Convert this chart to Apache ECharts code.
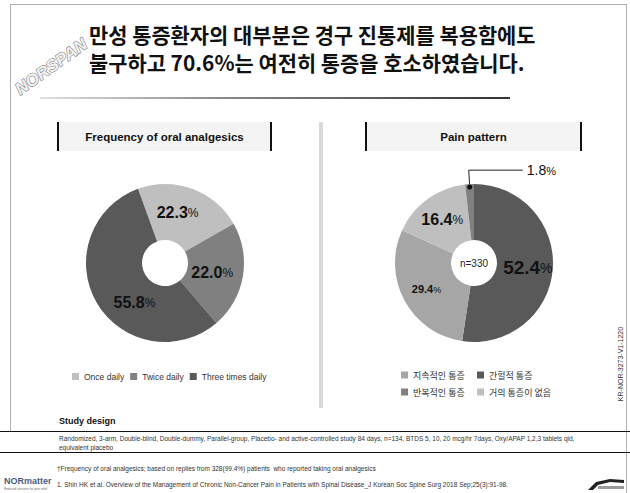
<!DOCTYPE html>
<html>
<head>
<meta charset="utf-8">
<script src="https://cdn.jsdelivr.net/npm/echarts@6/dist/echarts.min.js"></script>
<style>
  html, body { margin: 0; padding: 0; background: #fff; }
  #chart { width: 630px; height: 493px; }
</style>
</head>
<body>
<div id="chart"></div>
<script>
// ---- data ----
const freqNames = ['Once daily', 'Twice daily', 'Three times daily'];
const freqValues = [22.3, 22.0, 55.8];

const painNames = ['간헐적 통증', '지속적인 통증', '거의 통증이 없음', '반복적인 통증'];
const painValues = [52.4, 29.4, 16.4, 1.8];
const painLegendCol1 = ['지속적인 통증', '반복적인 통증'];
const painLegendCol2 = ['간헐적 통증', '거의 통증이 없음'];
const painSampleText = 'n=330';

const titleLines = ['만성 통증환자의 대부분은 경구 진통제를 복용함에도', '불구하고 70.6%는 여전히 통증을 호소하였습니다.'];
const panelTitles = ['Frequency of oral analgesics', 'Pain pattern'];
const studyHead = 'Study design';
const studyLines = [
  'Randomized, 3-arm, Double-blind, Double-dummy, Parallel-group, Placebo- and active-controlled study 84 days, n=134, BTDS 5, 10, 20 mcg/hr 7days, Oxy/APAP 1,2,3 tablets qid,',
  'equivalent placebo'
];
const footnote = '†Frequency of oral analgesics; based on replies from 328(99.4%) patients  who reported taking oral analgesics';
const reference = '1. Shin HK et al. Overview of the Management of Chronic Non-Cancer Pain in Patients with Spinal Disease_J Korean Soc Spine Surg 2018 Sep;25(3):91-98.';
const docCode = 'KR-NOR-3273-V1-1220';

// ---- styles ----
const KR = "'Noto Sans CJK KR', 'Noto Sans', sans-serif";
const EN = "'Liberation Sans', Arial, sans-serif";
const NARROW = "'Liberation Sans Narrow', 'Liberation Sans', Arial, sans-serif";

const freqColors = ['#bfbfbf', '#808080', '#595959'];
const painColors = ['#595959', '#a6a6a6', '#bfbfbf', '#808080'];
const painNumSize = [19, 11, 16, 14];
const painPctSize = [14, 9, 12, 11];
const painNumWeight = ['bold', 'bold', 'bold', 'normal'];

const leftCenter = [165, 263];
const rightCenter = [474, 263];
const pieRadius = [23, 79];

const fmt = v => v.toFixed(1);

const freqData = freqNames.map((n, i) => ({
  name: n, value: freqValues[i], itemStyle: { color: freqColors[i] }
}));

const lastPain = painValues.length - 1;
const painData = painNames.map((n, i) => {
  const item = { name: n, value: painValues[i], itemStyle: { color: painColors[i] } };
  const rich = {
    n: { fontSize: painNumSize[i], fontWeight: painNumWeight[i], color: '#111', fontFamily: EN },
    p: { fontSize: painPctSize[i], color: '#111', fontFamily: EN, padding: [2, 0, 0, 0] }
  };
  if (i === lastPain) {
    item.label = { position: 'outside', rich: rich };
    item.labelLine = { show: true, length: 14, length2: 54, lineStyle: { color: '#222', width: 1 } };
  } else {
    item.label = { position: 'inside', rich: rich };
    item.labelLine = { show: false };
  }
  return item;
});

let leaderStart = null;

const graphics = [
  // page frame
  { type: 'line', shape: { x1: 10, y1: 4.5, x2: 626, y2: 4.5 }, style: { stroke: '#b0b0b0', lineWidth: 1 } },
  { type: 'line', shape: { x1: 10.5, y1: 4, x2: 10.5, y2: 431 }, style: { stroke: '#b0b0b0', lineWidth: 1 } },
  { type: 'line', shape: { x1: 626.5, y1: 4, x2: 626.5, y2: 493 }, style: { stroke: '#b0b0b0', lineWidth: 1 } },
  // heading underline
  { type: 'rect', shape: { x: 40, y: 97, width: 470, height: 2 },
    style: { fill: { type: 'linear', x: 0, y: 0, x2: 1, y2: 0,
      colorStops: [{ offset: 0, color: '#e0e0e0' }, { offset: 0.4, color: '#888' }, { offset: 1, color: '#333' }] } } },
  // heading
  { type: 'text', x: 89, y: 34, style: { text: titleLines[0], font: 'bold 20.9px ' + KR, fill: '#111', verticalAlign: 'middle' } },
  { type: 'text', x: 89, y: 62, style: { text: titleLines[1], font: 'bold 20.9px ' + KR, fill: '#111', verticalAlign: 'middle' } },
  // product mark
  { type: 'text', x: 22, y: 98, rotation: 0.62,
    style: { text: 'NORSPAN', font: 'italic bold 17px ' + EN, fill: '#f2f2f2', stroke: '#6a6a6a', lineWidth: 1, verticalAlign: 'bottom' } },
  // panel title boxes
  { type: 'rect', shape: { x: 57, y: 122, width: 215, height: 29 }, style: { fill: '#f4f4f4' } },
  { type: 'rect', shape: { x: 57, y: 122, width: 2, height: 29 }, style: { fill: '#111' } },
  { type: 'rect', shape: { x: 270, y: 122, width: 2, height: 29 }, style: { fill: '#111' } },
  { type: 'text', x: 164.5, y: 137, style: { text: panelTitles[0], font: 'bold 11.5px ' + EN, fill: '#111', align: 'center', verticalAlign: 'middle' } },
  { type: 'rect', shape: { x: 365, y: 122, width: 217, height: 29 }, style: { fill: '#f4f4f4' } },
  { type: 'rect', shape: { x: 365, y: 122, width: 2, height: 29 }, style: { fill: '#111' } },
  { type: 'rect', shape: { x: 580, y: 122, width: 2, height: 29 }, style: { fill: '#111' } },
  { type: 'text', x: 473.5, y: 137, style: { text: panelTitles[1], font: 'bold 11.5px ' + EN, fill: '#111', align: 'center', verticalAlign: 'middle' } },
  // divider
  { type: 'rect', shape: { x: 319, y: 122, width: 4, height: 286 }, style: { fill: '#d9d9d9' } },
  // sample size in the donut hole
  { type: 'text', x: rightCenter[0], y: rightCenter[1], style: { text: painSampleText, font: '10px ' + EN, fill: '#222', align: 'center', verticalAlign: 'middle' } },
  // document code
  { type: 'text', x: 620, y: 364, rotation: Math.PI / 2,
    style: { text: docCode, font: '7px ' + NARROW, fill: '#333', align: 'center', verticalAlign: 'middle' } },
  // study design block
  { type: 'text', x: 59, y: 421, style: { text: studyHead, font: 'bold 9px ' + EN, fill: '#111', verticalAlign: 'middle' } },
  { type: 'line', shape: { x1: 0, y1: 431.5, x2: 630, y2: 431.5 }, style: { stroke: '#111', lineWidth: 1 } },
  { type: 'text', x: 59, y: 438, style: { text: studyLines[0], font: '6.5px ' + NARROW, fill: '#333', verticalAlign: 'middle' } },
  { type: 'text', x: 59, y: 447, style: { text: studyLines[1], font: '6.5px ' + NARROW, fill: '#333', verticalAlign: 'middle' } },
  { type: 'line', shape: { x1: 0, y1: 452.5, x2: 630, y2: 452.5 }, style: { stroke: '#111', lineWidth: 1 } },
  { type: 'text', x: 57, y: 468, style: { text: footnote, font: '6.5px ' + NARROW, fill: '#333', verticalAlign: 'middle' } },
  { type: 'text', x: 57, y: 484, style: { text: reference, font: '6.5px ' + NARROW, fill: '#333', verticalAlign: 'middle' } },
  // footer marks
  { type: 'text', x: 4, y: 481, style: { text: 'NORmatter', font: 'bold 9px ' + NARROW, fill: '#4b5d80', verticalAlign: 'middle' } },
  { type: 'text', x: 4, y: 489, style: { text: 'Reduced concerns for pain relief', font: '3px ' + EN, fill: '#666', verticalAlign: 'middle' } },
  { type: 'polygon', shape: { points: [[588, 490], [596, 482], [610, 479], [624, 480], [624, 483], [610, 482], [598, 485], [593, 490]] }, style: { fill: '#222' } },
  { type: 'rect', shape: { x: 598, y: 486, width: 26, height: 3 }, style: { fill: '#9a9a9a' } }
];

const option = {
  animation: false,
  backgroundColor: '#fff',
  legend: [
    {
      data: freqNames, left: 72, top: 372, padding: 0, itemGap: 6,
      itemWidth: 7, itemHeight: 7, icon: 'rect',
      textStyle: { fontFamily: EN, fontSize: 8.5, color: '#333', lineHeight: 9 },
      selectedMode: false
    },
    {
      data: painLegendCol1, orient: 'vertical', left: 401, top: 370, padding: 0, itemGap: 7,
      itemWidth: 7, itemHeight: 7, icon: 'rect',
      textStyle: { fontFamily: KR, fontSize: 9, color: '#333', lineHeight: 10 },
      selectedMode: false
    },
    {
      data: painLegendCol2, orient: 'vertical', left: 477, top: 370, padding: 0, itemGap: 7,
      itemWidth: 7, itemHeight: 7, icon: 'rect',
      textStyle: { fontFamily: KR, fontSize: 9, color: '#333', lineHeight: 10 },
      selectedMode: false
    }
  ],
  series: [
    {
      type: 'pie', name: panelTitles[0], center: leftCenter, radius: pieRadius,
      startAngle: 110, clockwise: true, silent: true,
      label: {
        show: true, position: 'inside',
        formatter: p => '{n|' + fmt(p.value) + '}{p|%}',
        rich: {
          n: { fontSize: 16, fontWeight: 'bold', color: '#111', fontFamily: EN },
          p: { fontSize: 12, color: '#111', fontFamily: EN, padding: [2, 0, 0, 0] }
        }
      },
      labelLine: { show: false },
      labelLayout: p => (p.dataIndex === 2 ? { dx: 8, dy: 6 } : { dx: -3 }),
      data: freqData
    },
    {
      type: 'pie', name: panelTitles[1], center: rightCenter, radius: pieRadius,
      startAngle: 90, clockwise: true, silent: true, avoidLabelOverlap: false,
      label: {
        show: true,
        formatter: p => '{n|' + fmt(p.value) + '}{p|%}'
      },
      labelLayout: p => {
        if (p.dataIndex !== lastPain || !p.labelLinePoints) return {};
        const pts = p.labelLinePoints;
        const run = Math.abs(pts[2][0] - pts[1][0]);
        const bend = pts[1];
        const end = [bend[0] + run, bend[1]];
        leaderStart = { edge: pts[0], bend: bend };
        return { x: end[0] + 4, y: end[1], align: 'left', verticalAlign: 'middle', labelLinePoints: [pts[0], bend, end] };
      },
      data: painData
    }
  ],
  graphic: { elements: graphics }
};

const chart = echarts.init(document.getElementById('chart'), null, { renderer: 'svg', width: 630, height: 493 });
chart.setOption(option);

// dot where the leader line meets the small slice, taken from the pie's own sector layout
function leaderDotPosition() {
  try {
    const lay = chart.getModel().getSeriesByIndex(1).getData().getItemLayout(lastPain);
    const mid = (lay.startAngle + lay.endAngle) / 2;
    const rr = lay.r - 3;
    return [lay.cx + rr * Math.cos(mid), lay.cy + rr * Math.sin(mid)];
  } catch (err) {
    if (!leaderStart) return null;
    const e = leaderStart.edge, b = leaderStart.bend;
    const dx = e[0] - b[0], dy = e[1] - b[1];
    const len = Math.sqrt(dx * dx + dy * dy) || 1;
    return [e[0] + dx / len * 3, e[1] + dy / len * 3];
  }
}
const dot = leaderDotPosition();
if (dot) {
  option.graphic.elements = graphics.concat([{
    type: 'circle', z: 100, zlevel: 1,
    shape: { cx: dot[0], cy: dot[1], r: 2.6 },
    style: { fill: '#111' }
  }]);
  chart.setOption(option, true);
}
</script>
</body>
</html>
